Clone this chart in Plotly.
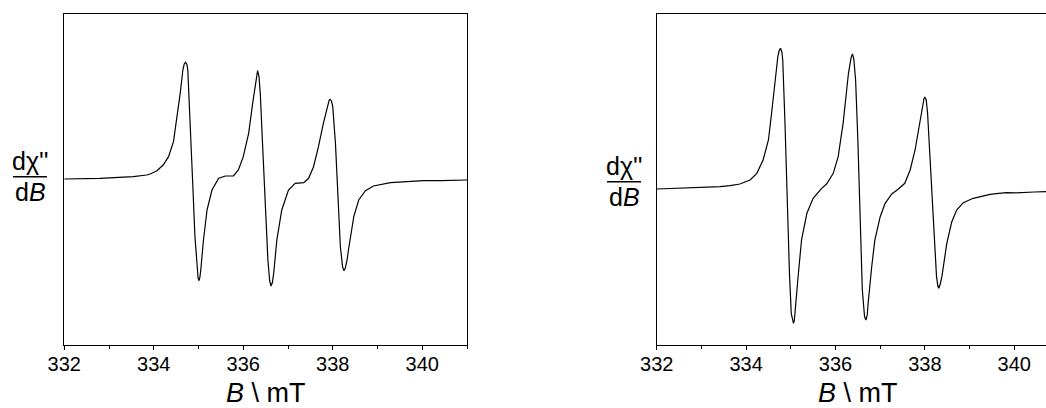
import plotly.graph_objects as go

# ---------------- data ----------------
# Left spectrum: magnetic field B (mT) and derivative signal (arbitrary units)
left_field = [332.00, 332.80, 333.54, 333.69, 333.84, 333.92, 334.07, 334.21, 334.33, 334.44,
              334.51, 334.59, 334.65, 334.68, 334.71, 334.74, 334.76, 334.81, 334.87, 334.92,
              334.96, 334.99, 335.01, 335.03, 335.05, 335.11, 335.19, 335.30, 335.45, 335.60,
              335.78, 335.89, 336.00, 336.12, 336.21, 336.27, 336.30, 336.32, 336.35, 336.38,
              336.43, 336.49, 336.55, 336.59, 336.62, 336.65, 336.68, 336.75, 336.86, 337.01,
              337.16, 337.35, 337.46, 337.57, 337.68, 337.79, 337.89, 337.92, 337.94, 337.97,
              338.00, 338.06, 338.12, 338.17, 338.22, 338.25, 338.28, 338.32, 338.35, 338.43,
              338.47, 338.58, 338.73, 338.91, 339.29, 339.66, 340.03, 340.40, 341.00]
left_signal = [1.0, 1.7, 3.3, 4.0, 5.0, 6.0, 9.3, 15.0, 23.3, 38.3,
               60.0, 86.7, 110.0, 116.0, 117.7, 115.5, 110.0, 63.3, -3.3, -56.7,
               -86.7, -98.0, -100.7, -97.5, -90.0, -60.0, -30.0, -10.0, 1.7, 4.0,
               4.0, 10.0, 23.3, 46.7, 76.7, 96.7, 106.0, 109.3, 104.0, 86.7,
               36.7, -30.0, -80.0, -101.0, -106.0, -102.5, -93.3, -60.0, -30.0, -10.0,
               -3.3, -2.7, 1.7, 13.3, 33.3, 56.7, 76.7, 80.0, 80.7, 79.0,
               73.3, 36.7, -20.0, -66.7, -87.0, -90.7, -88.0, -80.0, -70.0, -46.7,
               -36.7, -20.0, -10.7, -6.0, -2.7, -1.7, -0.7, -0.7, 0.0]

# Right spectrum
right_field = [332.00, 332.40, 332.82, 333.10, 333.42, 333.64, 333.86, 334.09, 334.24, 334.38,
               334.50, 334.57, 334.65, 334.71, 334.74, 334.77, 334.80, 334.82, 334.87, 334.92,
               334.97, 335.01, 335.04, 335.06, 335.08, 335.11, 335.17, 335.24, 335.36, 335.50,
               335.69, 335.80, 335.95, 336.06, 336.17, 336.25, 336.29, 336.35, 336.38, 336.41,
               336.45, 336.50, 336.55, 336.60, 336.65, 336.68, 336.71, 336.73, 336.81, 336.88,
               337.00, 337.11, 337.26, 337.40, 337.55, 337.67, 337.78, 337.89, 337.95, 337.98,
               338.00, 338.03, 338.06, 338.14, 338.20, 338.26, 338.29, 338.31, 338.34, 338.38,
               338.49, 338.60, 338.71, 338.86, 339.08, 339.30, 339.46, 339.65, 339.83, 340.00,
               340.20, 340.45, 340.71]
right_signal = [-9.0, -8.4, -8.3, -7.6, -6.7, -5.7, -4.0, 0.0, 6.7, 20.0,
                40.0, 66.7, 100.0, 123.3, 129.5, 131.7, 128.0, 120.0, 56.7, -26.7,
                -93.3, -133.3, -141.5, -143.3, -140.0, -126.7, -93.3, -60.0, -33.3, -18.3,
                -8.3, -4.0, 6.7, 23.3, 56.7, 90.0, 106.7, 122.5, 126.0, 121.0,
                100.0, 40.0, -43.3, -110.0, -136.5, -140.0, -135.0, -123.3, -86.7, -60.0,
                -36.7, -23.3, -14.0, -9.3, -3.3, 10.0, 30.0, 60.0, 76.7, 81.5,
                82.7, 80.0, 66.7, 0.0, -60.0, -96.7, -106.0, -108.3, -104.5, -96.7,
                -63.3, -42.0, -30.0, -22.7, -18.3, -15.8, -14.3, -13.4, -12.7, -12.9,
                -12.3, -12.0, -11.7]

x_tick_values = [332, 334, 336, 338, 340]
x_tick_labels = ["332", "334", "336", "338", "340"]
x_minor_values = [333, 335, 337, 339, 341]
x_title = "<i>B</i> \\ mT"
y_numerator = "dχ''"
y_denominator = "d<i>B</i>"

# ---------------- layout helpers ----------------
W, H = 1046, 408
FONT = "Arial, 'Liberation Sans', Arimo, sans-serif"


def px_x(p):
    return p / W


def px_y(p):
    return 1 - p / H


fig = go.Figure()
fig.add_trace(go.Scatter(x=left_field, y=left_signal, mode="lines",
                         line=dict(color="#000000", width=1.2), xaxis="x", yaxis="y",
                         showlegend=False, hoverinfo="skip"))
fig.add_trace(go.Scatter(x=right_field, y=right_signal, mode="lines",
                         line=dict(color="#000000", width=1.2), xaxis="x2", yaxis="y2",
                         showlegend=False, hoverinfo="skip"))

y_top, y_bot = 13.7, 345.0
common_x = dict(showline=True, linecolor="#000000", linewidth=1, mirror=True,
                ticks="outside", ticklen=4, tickwidth=1, tickcolor="#000000",
                tickvals=x_tick_values, ticktext=x_tick_labels, ticklabelstandoff=-3,
                tickfont=dict(family=FONT, size=20, color="#000000"),
                minor=dict(tickvals=x_minor_values, ticks="outside", ticklen=2.5,
                           tickwidth=1, tickcolor="#000000"),
                showgrid=False, zeroline=False, fixedrange=True, automargin=False)
common_y = dict(showline=True, linecolor="#000000", linewidth=1, showticklabels=False,
                ticks="", showgrid=False, zeroline=False, range=[-165.0, 166.3], fixedrange=True,
                domain=[px_y(y_bot), px_y(y_top)], automargin=False)

fig.update_layout(
    width=W, height=H, margin=dict(l=0, r=0, t=0, b=0, autoexpand=False),
    paper_bgcolor="#ffffff", plot_bgcolor="#ffffff", hovermode=False,
    xaxis=dict(common_x, domain=[px_x(64.3), px_x(467.0)], range=[332, 341], anchor="y"),
    yaxis=dict(common_y, mirror=True, anchor="x"),
    xaxis2=dict(common_x, domain=[px_x(656.7), 1.0], range=[332, 332 + (W - 656.7) / 44.7],
                anchor="y2"),
    yaxis2=dict(common_y, mirror=False, anchor="x2"),
)

ann = []
# x titles (centred on the full 332-341 span of each panel)
for cx in (265.6, 858.0):
    ann.append(dict(x=px_x(cx), y=px_y(392.5), xref="paper", yref="paper", text=x_title,
                    showarrow=False, xanchor="center", yanchor="middle",
                    font=dict(family=FONT, size=27, color="#000000")))
# y titles as a fraction
shapes = []
for cx, ly in ((30.0, 176.7), (624.0, 181.7)):
    ann.append(dict(x=px_x(cx), y=px_y(ly - 16), xref="paper", yref="paper", text=y_numerator,
                    showarrow=False, xanchor="center", yanchor="middle",
                    font=dict(family=FONT, size=25, color="#000000")))
    ann.append(dict(x=px_x(cx), y=px_y(ly + 15), xref="paper", yref="paper", text=y_denominator,
                    showarrow=False, xanchor="center", yanchor="middle",
                    font=dict(family=FONT, size=25, color="#000000")))
    shapes.append(dict(type="line", xref="paper", yref="paper",
                       x0=px_x(cx - 17), x1=px_x(cx + 17), y0=px_y(ly), y1=px_y(ly),
                       line=dict(color="#000000", width=1.5)))
fig.update_layout(annotations=ann, shapes=shapes)

# remove the page's default body margin so the 1046x408 figure fills the window exactly
fig.write_html("out.html",
               config={"displayModeBar": False, "staticPlot": True},
               post_script="document.body.style.margin='0';"
                           "document.body.style.overflow='hidden';")
